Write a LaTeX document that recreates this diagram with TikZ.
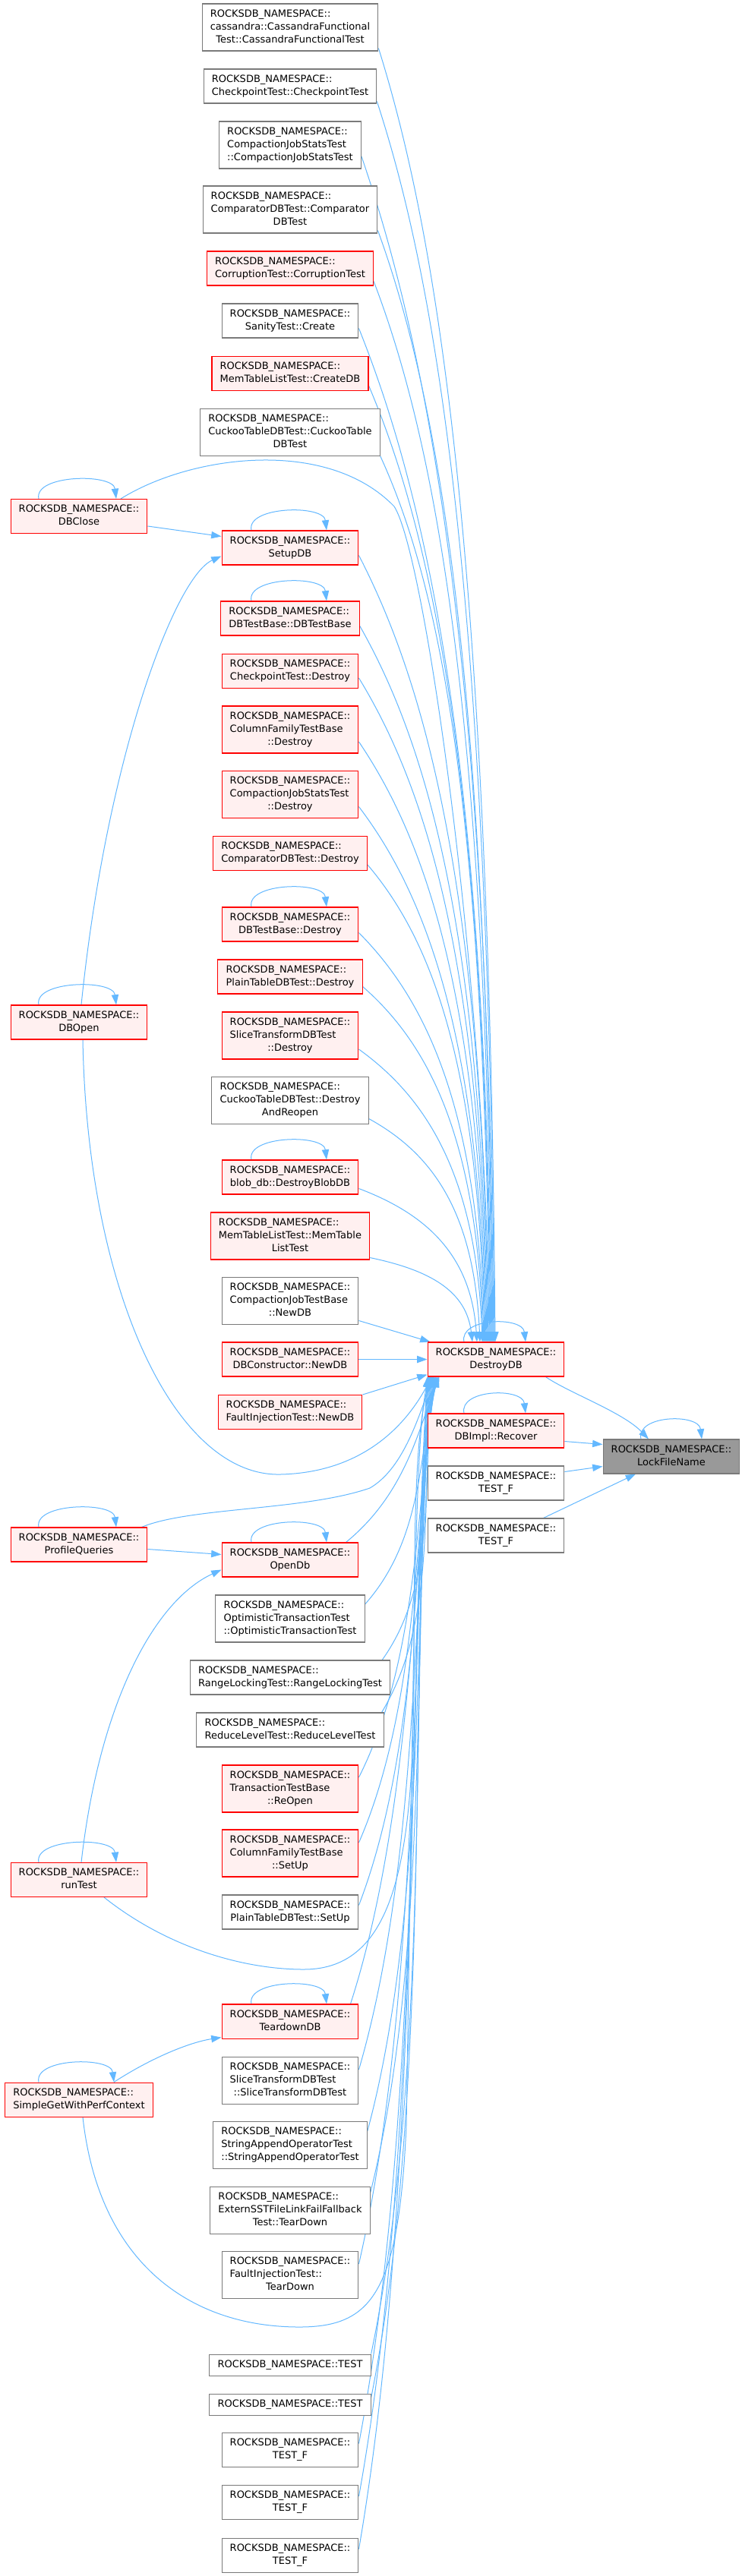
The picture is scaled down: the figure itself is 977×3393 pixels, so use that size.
\documentclass[tikz,border=0pt]{standalone}
\usepackage{fontspec}
\setmainfont{DejaVu Sans}
\usetikzlibrary{calc,arrows.meta}
\definecolor{edgec}{HTML}{63B8FF}
\definecolor{redfill}{HTML}{FFF0F0}
\definecolor{redline}{HTML}{FF0000}
\definecolor{greyline}{HTML}{7A7A7A}
\definecolor{greyfill}{HTML}{999999}
\newcommand{\NS}{ROCKSDB\_NAMESPACE::}
\newcommand{\ltwo}[2]{\begin{tabular}{@{}l@{}}#1\\\multicolumn{1}{@{}c@{}}{#2}\end{tabular}}
\newcommand{\lthree}[3]{\begin{tabular}{@{}l@{}}#1\\#2\\\multicolumn{1}{@{}c@{}}{#3}\end{tabular}}
\tikzset{
  wn/.style={rectangle, draw=greyline, fill=white, line width=0.8pt, inner xsep=8pt, inner ysep=0pt, font={\fontsize{9.75pt}{12.75pt}\selectfont}, text=black},
  rn/.style={wn, draw=redline, fill=redfill},
  gn/.style={wn, draw=greyline, fill=greyfill},
  h1/.style={minimum height=21pt},
  h2/.style={minimum height=33.75pt},
  h3/.style={minimum height=46.5pt},
  cedge/.style={draw=edgec, line width=0.75pt, -{Triangle[length=10pt,width=7pt]}},
}
\newcommand{\uedge}[2]{\draw[cedge] let \p1=#1, \p2=#2 in (\p1) .. controls (\x1+60pt,{\y1+0.15*(\y2-(\y1))}) and (\x2-6pt,{\y2-0.6*(\y2-(\y1))}) .. (\p2);}
\newcommand{\ledge}[2]{\draw[cedge] let \p1=#1, \p2=#2 in (\p1) .. controls (\x1+60pt,{\y1+0.3*(\y2-(\y1))}) and (\x2-20pt,{\y2-0.3*(\y2-(\y1))}) .. (\p2);}
\newcommand{\sloop}[3]{\draw[cedge] ($(#1.north)+(#2,0)$) .. controls +(-7,-32) and +(-4,-34) .. ($(#1.north)+(#3,0)$);}
\pgfdeclarelayer{bg}
\pgfdeclarelayer{edges}
\pgfsetlayers{bg,edges,main}
\begin{document}
\begin{tikzpicture}[x=0.75pt,y=-0.75pt]
\begin{pgfonlayer}{bg}
\fill[white] (0,0) rectangle (977,3393);
\end{pgfonlayer}
\useasboundingbox (0,0) rectangle (977,3393);
% nodes
\node[wn,h3] (m1) at (382,36) {\lthree{\NS}{cassandra::CassandraFunctional}{Test::CassandraFunctionalTest}};
\node[wn,h2] (m2) at (382,113.5) {\ltwo{\NS}{CheckpointTest::CheckpointTest}};
\node[wn,h3] (m3) at (382,191) {\lthree{\NS}{CompactionJobStatsTest}{::CompactionJobStatsTest}};
\node[wn,h3] (m4) at (382,276) {\lthree{\NS}{ComparatorDBTest::Comparator}{DBTest}};
\node[rn,h2] (m5) at (382,353.5) {\ltwo{\NS}{CorruptionTest::CorruptionTest}};
\node[wn,h2] (m6) at (382,422.5) {\ltwo{\NS}{SanityTest::Create}};
\node[rn,h2] (m7) at (382,492) {\ltwo{\NS}{MemTableListTest::CreateDB}};
\node[wn,h3] (m8) at (382,569.5) {\lthree{\NS}{CuckooTableDBTest::CuckooTable}{DBTest}};
\node[rn,h2] (dbclose) at (104,680) {\ltwo{\NS}{DBClose}};
\node[rn,h2] (setup) at (382,721.5) {\ltwo{\NS}{SetupDB}};
\node[rn,h2] (dbtb) at (382,814.5) {\ltwo{\NS}{DBTestBase::DBTestBase}};
\node[rn,h2] (ckd) at (382,884) {\ltwo{\NS}{CheckpointTest::Destroy}};
\node[rn,h3] (cfd) at (382,961) {\lthree{\NS}{ColumnFamilyTestBase}{::Destroy}};
\node[rn,h3] (cjsd) at (382,1046.5) {\lthree{\NS}{CompactionJobStatsTest}{::Destroy}};
\node[rn,h2] (cmpd) at (382,1124) {\ltwo{\NS}{ComparatorDBTest::Destroy}};
\node[rn,h2] (dbtbd) at (382,1217.5) {\ltwo{\NS}{DBTestBase::Destroy}};
\node[rn,h2] (ptd) at (382,1286.5) {\ltwo{\NS}{PlainTableDBTest::Destroy}};
\node[rn,h2] (dbopen) at (104,1346.5) {\ltwo{\NS}{DBOpen}};
\node[rn,h3] (std) at (382,1364) {\lthree{\NS}{SliceTransformDBTest}{::Destroy}};
\node[wn,h3] (cdr) at (382,1449.5) {\lthree{\NS}{CuckooTableDBTest::Destroy}{AndReopen}};
\node[rn,h2] (blob) at (382,1550.5) {\ltwo{\NS}{blob\_db::DestroyBlobDB}};
\node[rn,h3] (mtl) at (382,1628) {\lthree{\NS}{MemTableListTest::MemTable}{ListTest}};
\node[wn,h3] (cjtb) at (382,1713.5) {\lthree{\NS}{CompactionJobTestBase}{::NewDB}};
\node[rn,h2] (dbc) at (382,1790.5) {\ltwo{\NS}{DBConstructor::NewDB}};
\node[rn,h2] (finew) at (382,1860) {\ltwo{\NS}{FaultInjectionTest::NewDB}};
\node[rn,h2] (D) at (653,1790.5) {\ltwo{\NS}{DestroyDB}};
\node[rn,h2] (rec) at (653,1884.5) {\ltwo{\NS}{DBImpl::Recover}};
\node[gn,h2] (L) at (884,1918.5) {\ltwo{\NS}{LockFileName}};
\node[wn,h2] (rtf1) at (653,1953.5) {\ltwo{\NS}{TEST\_F}};
\node[wn,h2] (rtf2) at (653,2022.5) {\ltwo{\NS}{TEST\_F}};
\node[rn,h2] (pq) at (104,2034.5) {\ltwo{\NS}{ProfileQueries}};
\node[rn,h2] (opendb) at (382,2054.5) {\ltwo{\NS}{OpenDb}};
\node[wn,h3] (otx) at (382,2132) {\lthree{\NS}{OptimisticTransactionTest}{::OptimisticTransactionTest}};
\node[wn,h2] (rlt) at (382,2209.5) {\ltwo{\NS}{RangeLockingTest::RangeLockingTest}};
\node[wn,h2] (rlv) at (382,2278.5) {\ltwo{\NS}{ReduceLevelTest::ReduceLevelTest}};
\node[rn,h3] (txr) at (382,2356) {\lthree{\NS}{TransactionTestBase}{::ReOpen}};
\node[rn,h3] (cfsu) at (382,2441) {\lthree{\NS}{ColumnFamilyTestBase}{::SetUp}};
\node[rn,h2] (rt) at (104,2476) {\ltwo{\NS}{runTest}};
\node[wn,h2] (ptsu) at (382,2518.5) {\ltwo{\NS}{PlainTableDBTest::SetUp}};
\node[rn,h2] (tdb) at (382,2662.5) {\ltwo{\NS}{TeardownDB}};
\node[wn,h3] (stc) at (382,2740) {\lthree{\NS}{SliceTransformDBTest}{::SliceTransformDBTest}};
\node[rn,h2] (sg) at (104,2765.5) {\ltwo{\NS}{SimpleGetWithPerfContext}};
\node[wn,h3] (sao) at (382,2825) {\lthree{\NS}{StringAppendOperatorTest}{::StringAppendOperatorTest}};
\node[wn,h3] (ext) at (382,2911) {\lthree{\NS}{ExternSSTFileLinkFailFallback}{Test::TearDown}};
\node[wn,h3] (fit) at (382,2996) {\lthree{\NS}{FaultInjectionTest::}{TearDown}};
\node[wn,h1] (t1) at (382,3115) {ROCKSDB\_NAMESPACE::TEST};
\node[wn,h1] (t2) at (382,3167) {ROCKSDB\_NAMESPACE::TEST};
\node[wn,h2] (tf1) at (382,3226.5) {\ltwo{\NS}{TEST\_F}};
\node[wn,h2] (tf2) at (382,3296) {\ltwo{\NS}{TEST\_F}};
\node[wn,h2] (tf3) at (382,3365.5) {\ltwo{\NS}{TEST\_F}};
% edges
\begin{pgfonlayer}{edges}
\uedge{($(m1.south east)+(0,-4)$)}{($(D.north)+(-1,0)$)}
\uedge{($(m2.south east)+(0,-3)$)}{($(D.north)+(-2,0)$)}
\uedge{($(m3.east)+(0,15)$)}{($(D.north)+(-3,0)$)}
\uedge{($(m4.south east)+(0,-4)$)}{($(D.north)+(-4,0)$)}
\uedge{($(m5.south east)+(0,-6)$)}{($(D.north)+(-5,0)$)}
\uedge{($(m6.east)+(0,10)$)}{($(D.north)+(-6,0)$)}
\uedge{($(m7.south east)+(0,-7)$)}{($(D.north)+(-7,0)$)}
\uedge{(m8.south east)}{($(D.north)+(-8,0)$)}
\uedge{($(setup.east)+(0,10)$)}{($(D.north)+(-10,0)$)}
\uedge{($(dbtb.east)+(0,10)$)}{($(D.north)+(-11,0)$)}
\uedge{($(ckd.east)+(0,9)$)}{($(D.north)+(-12,0)$)}
\uedge{($(cfd.east)+(0,16)$)}{($(D.north)+(-13,0)$)}
\uedge{($(cjsd.east)+(0,16)$)}{($(D.north)+(-14,0)$)}
\uedge{($(cmpd.east)+(0,15)$)}{($(D.north)+(-15,0)$)}
\uedge{($(dbtbd.east)+(0,11)$)}{($(D.north)+(-16,0)$)}
\uedge{($(ptd.east)+(0,13)$)}{($(D.north)+(-17,0)$)}
\uedge{($(std.east)+(0,18)$)}{($(D.north)+(-18,0)$)}
\uedge{($(cdr.east)+(0,24)$)}{($(D.north)+(-21,0)$)}
\uedge{($(blob.east)+(0,15)$)}{($(D.north)+(-25,0)$)}
\uedge{($(mtl.south east)+(0,-3)$)}{($(D.north)+(-31,0)$)}
\draw[cedge] ($(cjtb.east)+(0,26)$) -- ($(D.north west)+(4,0)$);
\draw[cedge] (dbc.east) -- (D.west);
\draw[cedge] (finew.north east) -- ($(D.south west)+(0,-3)$);
\ledge{($(opendb.north east)+(-17,0)$)}{($(D.south west)+(16,0)$)}
\ledge{($(otx.east)+(0,-19)$)}{($(D.south west)+(15,0)$)}
\ledge{($(rlt.north east)+(-11,0)$)}{($(D.south west)+(14,0)$)}
\ledge{($(rlv.north east)+(-3,0)$)}{($(D.south west)+(13,0)$)}
\ledge{($(txr.east)+(0,-15)$)}{($(D.south west)+(12,0)$)}
\ledge{($(cfsu.east)+(0,-14)$)}{($(D.south west)+(11,0)$)}
\ledge{($(ptsu.east)+(0,-9)$)}{($(D.south west)+(10,0)$)}
\ledge{($(tdb.north east)+(-11,0)$)}{($(D.south west)+(9,0)$)}
\ledge{($(stc.east)+(0,-14)$)}{($(D.south west)+(8,0)$)}
\ledge{($(sao.east)+(0,-18)$)}{($(D.south west)+(7,0)$)}
\ledge{($(ext.east)+(0,-23)$)}{($(D.south west)+(6,0)$)}
\ledge{($(fit.east)+(0,-14)$)}{($(D.south west)+(5,0)$)}
\ledge{(t1.north east)}{($(D.south west)+(4,0)$)}
\ledge{($(t2.east)+(0,-9)$)}{($(D.south west)+(3,0)$)}
\ledge{($(tf1.east)+(0,-8)$)}{($(D.south west)+(2,0)$)}
\ledge{($(tf2.east)+(0,-8)$)}{($(D.south west)+(1,0)$)}
\ledge{($(tf3.east)+(0,-8)$)}{(D.south west)}
% left column edges
\draw[cedge] ($(dbclose.east)+(0,13)$) -- ($(setup.west)+(0,-15)$);
\draw[cedge] ($(dbclose.north)+(55,0)$) .. controls (250,600) and (430,575) .. (519,667) .. controls (560,730) and (640,1300) .. ($(D.north)+(-9,0)$);
\draw[cedge] ($(dbopen.north)+(3,0)$) .. controls (140,1000) and (230,760) .. ($(setup.west)+(0,11)$);
\draw[cedge] ($(dbopen.south)+(5,0)$) .. controls (115,1700) and (230,1945) .. (369,1942) .. controls (460,1940) and (525,1895) .. ($(D.south west)+(6,0)$);
\draw[cedge] ($(pq.east)+(0,6)$) -- ($(opendb.west)+(0,-7)$);
\draw[cedge] ($(pq.north east)+(-8,0)$) .. controls (250,1985) and (400,1990) .. (487,1960) .. controls (530,1935) and (550,1870) .. ($(D.south west)+(8,0)$);
\draw[cedge] ($(rt.north)+(3,0)$) .. controls (130,2250) and (200,2110) .. ($(opendb.west)+(0,13)$);
\draw[cedge] ($(rt.south)+(33,0)$) .. controls (220,2565) and (320,2594) .. (400,2594) .. controls (520,2594) and (545,2450) .. (545,2200) .. controls (545,1950) and (550,1880) .. ($(D.south west)+(4,0)$);
\draw[cedge] ($(sg.north)+(46,0)$) .. controls (200,2710) and (250,2690) .. ($(tdb.south west)+(0,-2)$);
\draw[cedge] ($(sg.south)+(5,0)$) .. controls (130,2980) and (250,3065) .. (394,3065) .. controls (490,3065) and (525,3020) .. (535,2800) .. controls (545,2200) and (545,1900) .. ($(D.south west)+(2,0)$);
% into LockFileName
\draw[cedge] ($(D.south east)+(-25,0)$) .. controls (750,1835) and (820,1860) .. ($(L.north)+(-30,0)$);
\draw[cedge] ($(rec.east)+(0,14)$) -- ($(L.west)+(0,-16)$);
\draw[cedge] ($(rtf1.east)+(0,-15)$) -- ($(L.west)+(0,13)$);
\draw[cedge] ($(rtf2.north east)+(-28,0)$) -- ($(L.south)+(-47,0)$);
% self loops
\sloop{dbclose}{-53}{49}
\sloop{setup}{-51}{48}
\sloop{dbtb}{-51}{48}
\sloop{dbtbd}{-51}{48}
\sloop{dbopen}{-53}{49}
\sloop{blob}{-51}{48}
\sloop{D}{-42}{39}
\sloop{rec}{-42}{39}
\sloop{L}{-40}{40}
\sloop{pq}{-53}{49}
\sloop{opendb}{-51}{48}
\sloop{rt}{-53}{49}
\sloop{tdb}{-51}{48}
\sloop{sg}{-53}{46}
\end{pgfonlayer}
\end{tikzpicture}
\end{document}
